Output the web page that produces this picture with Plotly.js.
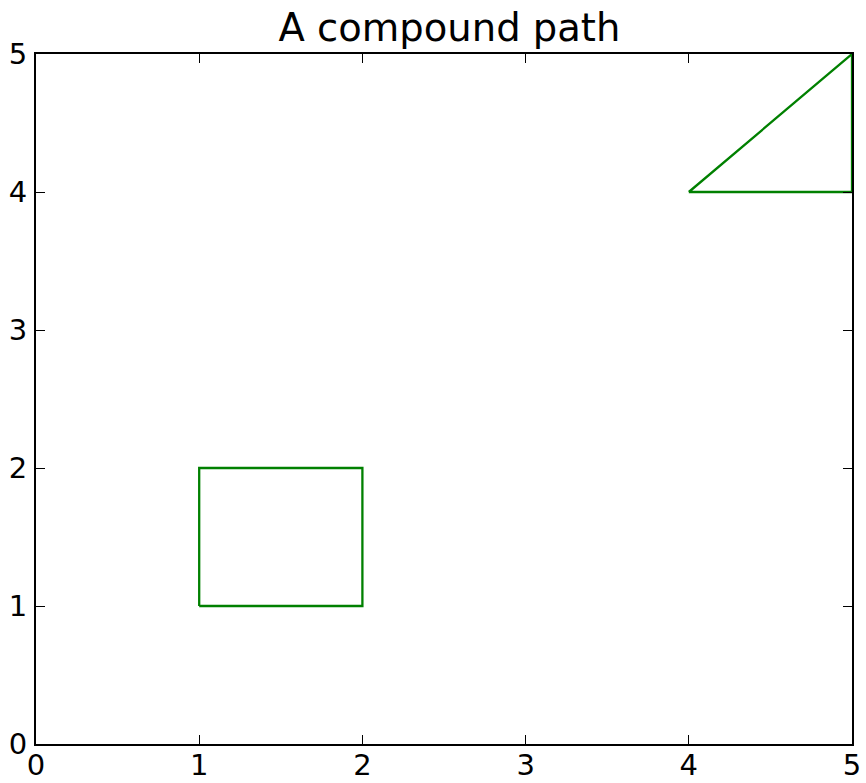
<!DOCTYPE html>
<html>
<head>
<meta charset="utf-8">
<script src="https://cdn.plot.ly/plotly-3.0.1.min.js"></script>
<style>html,body{margin:0;padding:0;background:#fff;}#chart{width:866px;height:783px;}</style>
</head>
<body>
<div id="chart"></div>
<script>
// Compound path: a square and a triangle (vertices, null separates sub-paths)
const pathX = [1, 2, 2, 1, 1, null, 4, 5, 5, 4];
const pathY = [1, 1, 2, 2, 1, null, 4, 5, 4, 4];
const tickVals = [0, 1, 2, 3, 4, 5];
const tickText = ['0', '1', '2', '3', '4', '5'];

const font = 'DejaVu Sans, sans-serif';
const axisCommon = {
  range: [0, 5],
  tickvals: tickVals,
  ticktext: tickText,
  ticks: 'inside',
  ticklen: 9,
  tickwidth: 1,
  tickcolor: '#000',
  showline: true,
  linecolor: '#000',
  linewidth: 2,
  mirror: 'ticks',
  showgrid: false,
  zeroline: false,
  tickfont: {family: font, size: 29, color: '#000'},
  fixedrange: true
};

Plotly.newPlot('chart', [{
  x: pathX, y: pathY,
  type: 'scatter', mode: 'lines',
  line: {color: '#008000', width: 2.3},
  connectgaps: false,
  hoverinfo: 'skip'
}], {
  width: 866, height: 783,
  margin: {l: 36, r: 14, t: 54, b: 39},
  paper_bgcolor: '#fff', plot_bgcolor: '#fff',
  showlegend: false,
  title: {text: 'A compound path', font: {family: font, size: 38.5, color: '#000'}, x: 0.519, xanchor: 'center', y: 0.965, yanchor: 'middle'},
  xaxis: Object.assign({}, axisCommon, {ticklabelstandoff: -6}),
  yaxis: Object.assign({}, axisCommon, {ticklabelstandoff: 1})
}, {staticPlot: true});
</script>
</body>
</html>
